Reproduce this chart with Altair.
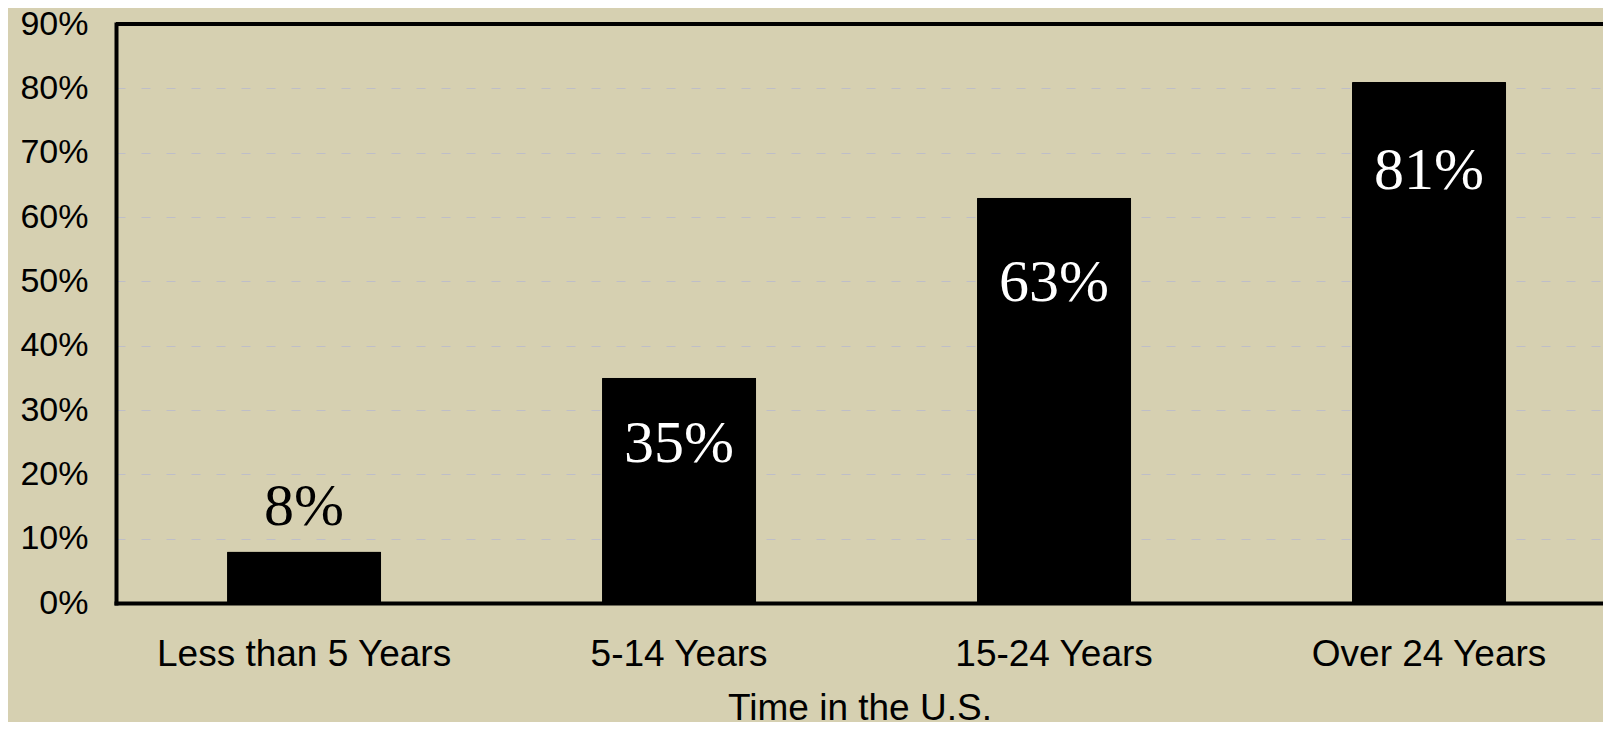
import altair as alt
import pandas as pd

categories = ["Less than 5 Years", "5-14 Years", "15-24 Years", "Over 24 Years"]
values = [0.08, 0.35, 0.63, 0.81]
label_anchor = [0.121, 0.219, 0.469, 0.643]
y_ticks = [0.0, 0.1, 0.2, 0.3, 0.4, 0.5, 0.6, 0.7, 0.8, 0.9]

df = pd.DataFrame({"cat": categories, "value": values, "anchor": label_anchor})

BG = "#D6D0B1"
SANS = "Liberation Sans"
SERIF = "Liberation Serif"

x_enc = alt.X(
    "cat:N",
    sort=categories,
    scale=alt.Scale(paddingInner=0.589, paddingOuter=0.2772, align=0.534, round=False),
    axis=alt.Axis(
        title="Time in the U.S.",
        labelAngle=0,
        labelFont=SANS,
        labelFontSize=37,
        labelColor="black",
        labelBaseline="alphabetic",
        labelPadding=62,
        labelLimit=0,
        labelOverlap=False,
        ticks=False,
        tickSize=0,
        domainColor="black",
        domainWidth=4,
        domainCap="square",
        titleFont=SANS,
        titleFontSize=37,
        titleFontWeight="normal",
        titleColor="black",
        titleBaseline="alphabetic",
        titleY=116,
        grid=False,
    ),
)

y_scale = alt.Scale(domain=[0, 0.9], nice=False, zero=True)

bars = alt.Chart(df).mark_bar(color="black", cornerRadius=1).encode(
    x=x_enc,
    y=alt.Y(
        "value:Q",
        scale=y_scale,
        axis=alt.Axis(
            title=None,
            values=y_ticks,
            format=".0%",
            labelFont=SANS,
            labelFontSize=34,
            labelColor="black",
            labelPadding=28,
            ticks=False,
            tickSize=0,
            domainColor="black",
            domainWidth=4,
            domainCap="square",
            grid=True,
            gridColor="#BEBEC8",
            gridDash=[9, 16],
            gridWidth=1.2,
        ),
    ),
)

labels = alt.Chart(df).mark_text(
    font=SERIF, fontSize=60, baseline="alphabetic", align="center"
).encode(
    x=alt.X("cat:N", sort=categories),
    y=alt.Y("anchor:Q", scale=y_scale),
    text=alt.Text("value:Q", format=".0%"),
    color=alt.condition(alt.datum.value > 0.2, alt.value("white"), alt.value("black")),
)

top_line = alt.Chart(pd.DataFrame({"top": [0.9]})).mark_rule(
    color="black", strokeWidth=4
).encode(y=alt.Y("top:Q", scale=y_scale))

chart = (
    alt.layer(bars, labels, top_line)
    .properties(
        width=1487,
        height=579,
        background=BG,
        autosize=alt.AutoSizeParams(type="none"),
        padding={"left": 108, "top": 16, "right": 0, "bottom": 119},
    )
    .configure_view(stroke=None, fill=BG)
)

chart.save("out.html", embed_options={"renderer": "svg", "actions": False})
